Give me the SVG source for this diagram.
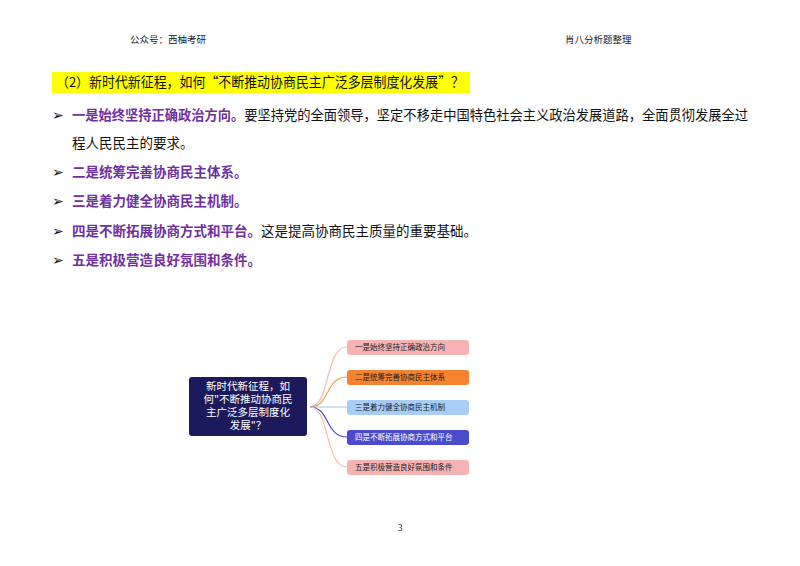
<svg xmlns="http://www.w3.org/2000/svg" width="800" height="566" viewBox="0 0 800 566">
<style>
.t{font-family:"Noto Sans CJK SC","Noto Serif CJK SC",serif;font-size:13.5px;fill:#111}
.p{fill:#7030a0;font-weight:bold}
.h{font-family:"Liberation Serif","Noto Sans CJK SC",serif;font-size:9.5px;fill:#222}
.b{font-family:"Noto Sans CJK SC",sans-serif;font-size:7.5px;fill:#222;dominant-baseline:middle}
.c{fill:none;stroke-width:1.2}
</style>
<rect width="800" height="566" fill="#fff"/>
<text class="h" x="130" y="43">公众号：西柚考研</text>
<text class="h" x="565" y="43">肖八分析题整理</text>
<rect x="52" y="72" width="418" height="21" fill="#ffff00"/>
<text class="t" x="56" y="87" textLength="408" lengthAdjust="spacingAndGlyphs">（2）新时代新征程，如何“不断推动协商民主广泛多层制度化发展”？</text>
<g class="t">
<text x="52" y="120">➢</text><text x="72" y="120" textLength="676" lengthAdjust="spacingAndGlyphs"><tspan class="p">一是始终坚持正确政治方向。</tspan>要坚持党的全面领导，坚定不移走中国特色社会主义政治发展道路，全面贯彻发展全过</text>
<text x="72" y="148">程人民民主的要求。</text>
<text x="52" y="177">➢</text><text x="72" y="177" class="p">二是统筹完善协商民主体系。</text>
<text x="52" y="206">➢</text><text x="72" y="206" class="p">三是着力健全协商民主机制。</text>
<text x="52" y="236">➢</text><text x="72" y="236"><tspan class="p">四是不断拓展协商方式和平台。</tspan>这是提高协商民主质量的重要基础。</text>
<text x="52" y="265">➢</text><text x="72" y="265" class="p">五是积极营造良好氛围和条件。</text>
</g>
<g id="connectors">
<path class="c" stroke="#f4b6b6" d="M310 407 C330 407 325 347 347 347"/>
<path class="c" stroke="#f0a050" d="M310 407 C330 407 325 377 347 377"/>
<path class="c" stroke="#9cc3f0" d="M310 407 L347 407"/>
<path class="c" stroke="#4b4fc0" d="M310 407 C330 407 325 437 347 437"/>
<path class="c" stroke="#f4c0b0" d="M310 407 C330 407 325 467 347 467"/>
</g>
<g id="root">
<rect x="189" y="377" width="118" height="59" rx="3" fill="#1c1a5c"/>
<g font-family="Noto Sans CJK SC,sans-serif" font-size="10.5" fill="#fff" text-anchor="middle">
<text x="248" y="390">新时代新征程，如</text>
<text x="248" y="403">何"不断推动协商民</text>
<text x="248" y="416">主广泛多层制度化</text>
<text x="248" y="429">发展"？</text>
</g>
</g>
<g id="n1"><rect x="347" y="340" width="122" height="15" rx="3" fill="#f7b3b3"/><text class="b" x="355" y="348">一是始终坚持正确政治方向</text></g>
<g id="n2"><rect x="347" y="370" width="122" height="15" rx="3" fill="#f5822e"/><text class="b" x="355" y="378">二是统筹完善协商民主体系</text></g>
<g id="n3"><rect x="347" y="400" width="122" height="15" rx="3" fill="#a9cdf5"/><text class="b" x="355" y="408">三是着力健全协商民主机制</text></g>
<g id="n4"><rect x="347" y="430" width="122" height="15" rx="3" fill="#4a4ccc"/><text class="b" x="355" y="438" style="fill:#fff">四是不断拓展协商方式和平台</text></g>
<g id="n5"><rect x="347" y="460" width="122" height="15" rx="3" fill="#f7b3b3"/><text class="b" x="355" y="468">五是积极营造良好氛围和条件</text></g>
<text class="h" x="400" y="531" text-anchor="middle">3</text>
</svg>
